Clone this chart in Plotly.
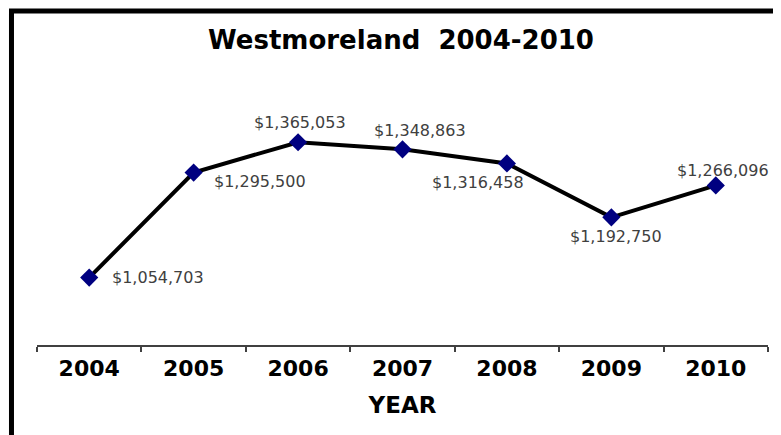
import plotly.graph_objects as go

years = ["2004", "2005", "2006", "2007", "2008", "2009", "2010"]
values = [1054703, 1295500, 1365053, 1348863, 1316458, 1192750, 1266096]

# pixel offsets of each value label from its marker
label_shift = [(69, 0), (66, -9), (2, 20), (17, 19), (-29, -19), (5, -19), (7, 15)]

fig = go.Figure()

fig.add_trace(go.Scatter(
    x=years,
    y=values,
    mode="lines+markers",
    line=dict(color="black", width=4),
    marker=dict(symbol="diamond", size=14, color="#000080"),
    hoverinfo="x+y",
    showlegend=False,
))

# category axis: annotations use the category index
for i, (val, (dx, dy)) in enumerate(zip(values, label_shift)):
    fig.add_annotation(
        x=i, y=val, text=f"${val:,}",
        showarrow=False, xshift=dx, yshift=dy,
        font=dict(family="DejaVu Sans", size=16, color="#404040"),
    )

# black frame around the chart (only top and left visible)
fig.add_shape(
    type="rect", xref="paper", yref="paper",
    x0=-0.0349, x1=1.2, y0=-1.0, y1=1.532,
    line=dict(color="black", width=5),
)

# page body has an 8px margin, so the figure is 8px smaller than the window
fig.update_layout(
    width=773,
    height=427,
    margin=dict(l=29, r=13, t=119, b=90),
    paper_bgcolor="white",
    plot_bgcolor="white",
    title=dict(
        text="<b>Westmoreland  2004-2010</b>",
        x=393 / 773, xanchor="center",
        y=1 - 32 / 427, yanchor="middle",
        font=dict(family="DejaVu Sans", size=26, color="black"),
    ),
    xaxis=dict(
        type="category",
        range=[-0.5, len(years) - 0.5],
        showline=True, linecolor="#404040", linewidth=1.5,
        ticks="outside", tickson="boundaries", ticklen=5,
        tickcolor="#404040", tickwidth=1.5,
        showgrid=False,
        ticklabelstandoff=3,
        tickfont=dict(family="DejaVu Sans", size=22, color="black", weight="bold"),
        title=dict(
            text="<b>YEAR</b>", standoff=17,
            font=dict(family="DejaVu Sans", size=23, color="black"),
        ),
    ),
    yaxis=dict(
        range=[900000, 1400000],
        visible=False,
    ),
)

fig.write_html("out.html")
